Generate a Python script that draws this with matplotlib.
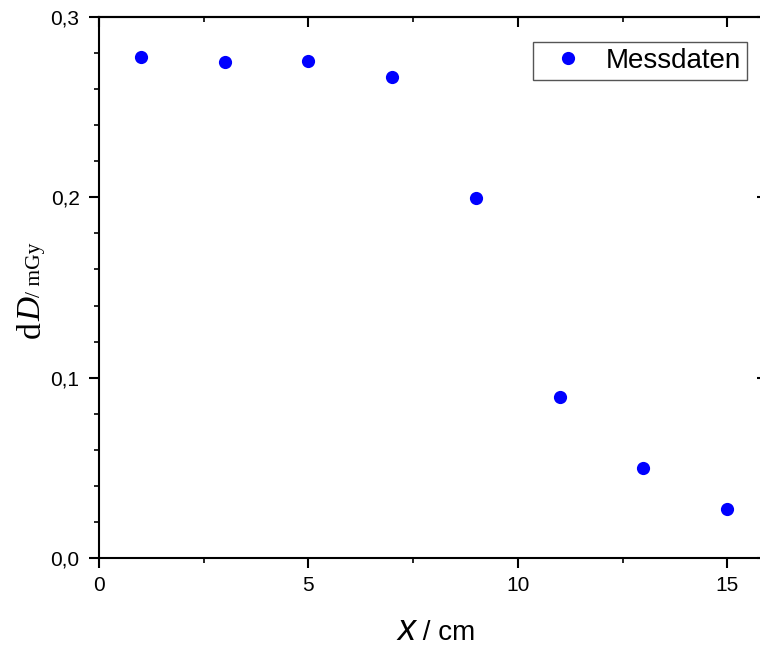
import matplotlib
matplotlib.use('Agg')
from matplotlib import pyplot as plt
from matplotlib.ticker import MultipleLocator, FuncFormatter
from matplotlib.transforms import IdentityTransform

# depth dose measurement
x_cm = [1, 3, 5, 7, 9, 11, 13, 15]
dose = [0.278, 0.2754, 0.2758, 0.2667, 0.1997, 0.0894, 0.050, 0.0269]
series_label = 'Messdaten'

plt.rcParams['font.family'] = ['Liberation Sans', 'DejaVu Sans']

W, H = 760, 645
fig = plt.figure(figsize=(W / 100, H / 100), dpi=100)
ax = fig.add_axes([99 / W, (H - 557.7) / H, (767 - 99) / W, (557.7 - 17.3) / H])

ax.plot(x_cm, dose, 'o', color='#0000ff', ms=9.5, mec='none', label=series_label)
ax.set_xlim(0, 15.95)
ax.set_ylim(0, 0.3)

ax.xaxis.set_major_locator(MultipleLocator(5))
ax.xaxis.set_minor_locator(MultipleLocator(2.5))
ax.xaxis.set_major_formatter(FuncFormatter(lambda v, p: '%d' % round(v)))
ax.yaxis.set_major_locator(MultipleLocator(0.1))
ax.yaxis.set_minor_locator(MultipleLocator(0.02))
# german decimal comma
ax.yaxis.set_major_formatter(FuncFormatter(lambda v, p: ('%.1f' % v).replace('.', ',')))

for sp in ax.spines.values():
    sp.set_linewidth(1.5)

ax.tick_params(which='both', direction='out', top=False, right=False, labelsize=15, width=1.5)
ax.tick_params(which='major', length=7.5)
ax.tick_params(which='minor', length=3.8, width=1.2)
ax.tick_params(axis='x', pad=5.5)
ax.tick_params(axis='y', pad=6.5)

# top and right frames carry inward ticks without labels
top = ax.secondary_xaxis('top')
top.xaxis.set_major_locator(MultipleLocator(5))
top.xaxis.set_minor_locator(MultipleLocator(2.5))
top.tick_params(which='both', direction='in', labeltop=False, width=1.5)
top.tick_params(which='major', length=7.5)
top.tick_params(which='minor', length=3.8, width=1.2)
top.spines['top'].set_linewidth(1.5)

right = ax.secondary_yaxis('right')
right.yaxis.set_major_locator(MultipleLocator(0.1))
right.yaxis.set_minor_locator(MultipleLocator(0.02))
right.tick_params(which='both', direction='in', labelright=False, width=1.5)
right.tick_params(which='major', length=7.5)
right.tick_params(which='minor', length=3.8, width=1.2)
right.spines['right'].set_linewidth(1.5)

leg = ax.legend(loc='upper right', bbox_to_anchor=(747 / W, 1 - 42 / H),
                bbox_transform=fig.transFigure, borderaxespad=0, fancybox=False,
                framealpha=1, edgecolor='#555555', fontsize=20, borderpad=0.22,
                handlelength=2.1, handletextpad=0.3, numpoints=1)
leg.get_frame().set_linewidth(1.0)


def chain(pieces, x0, y0, rotation=0):
    # place text runs of different styles one after the other on a shared baseline
    r = fig.canvas.get_renderer()
    x, y = x0, y0
    for s, kw in pieces:
        t = fig.text(x, H - y, s, transform=IdentityTransform(), rotation=rotation,
                     rotation_mode='anchor', ha='left', va='baseline', **kw)
        bb = t.get_window_extent(r)
        if rotation == 0:
            x = bb.x1
        else:
            y = H - bb.y1


chain([('x', dict(fontsize=26, style='italic')),
       (' / cm', dict(fontsize=20))], 397, 640)

serif = ['Liberation Serif', 'DejaVu Serif']
chain([('d', dict(fontsize=24, family=serif)),
       ('D', dict(fontsize=24, family=serif, style='italic')),
       ('/ mGy', dict(fontsize=15.5, family=serif))], 40, 338, rotation=90)

fig.savefig('out.png', dpi=100)
